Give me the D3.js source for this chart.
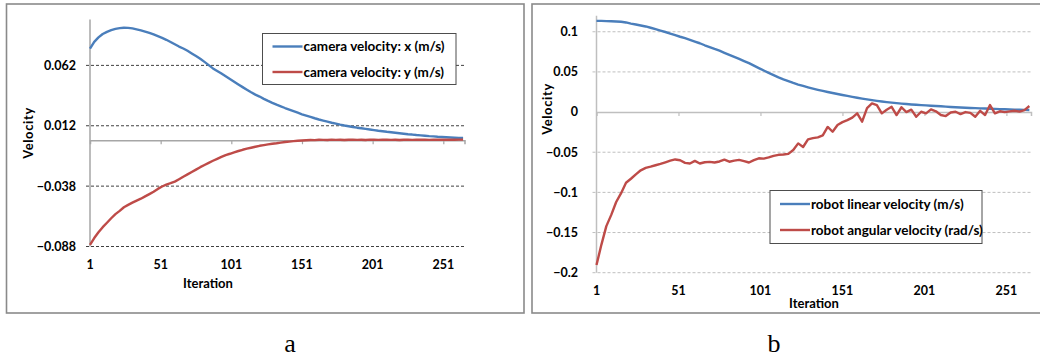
<!DOCTYPE html>
<html>
<head>
<meta charset="utf-8">
<script src="https://cdn.jsdelivr.net/npm/d3@7"></script>
<style>
  body { margin: 0; background: #fff; }
  svg { display: block; }
  .tick-label { font-family: Lato, "Liberation Sans", sans-serif; font-weight: 700; font-size: 12.5px; fill: #000; }
  .axis-title { font-family: Lato, "Liberation Sans", sans-serif; font-weight: 700; font-size: 13px; fill: #000; }
  .legend-text { font-family: Lato, "Liberation Sans", sans-serif; font-weight: 700; font-size: 13.5px; fill: #000; }
  .caption { font-family: "Liberation Serif", "DejaVu Serif", serif; font-size: 26px; fill: #000; }
</style>
</head>
<body>
<svg id="chart" width="1040" height="358"></svg>
<script>
// iteration index shared by both panels (every 3rd sample)
const iterations = d3.range(1, 266, 3);
const xTicks = [1, 51, 101, 151, 201, 251];

// panel a
const camTicks = [-0.088, -0.038, 0.012, 0.062];
const camVelX = [
  0.0758, 0.0815, 0.0852, 0.0880, 0.0898, 0.0912, 0.0922, 0.0929, 0.0932, 0.0931,
  0.0926, 0.0918, 0.0910, 0.0900, 0.0889, 0.0876, 0.0862, 0.0848, 0.0832, 0.0814,
  0.0795, 0.0776, 0.0760, 0.0741, 0.0719, 0.0697, 0.0675, 0.0649, 0.0622, 0.0595,
  0.0573, 0.0552, 0.0529, 0.0507, 0.0484, 0.0462, 0.0440, 0.0418, 0.0397, 0.0378,
  0.0362, 0.0343, 0.0326, 0.0310, 0.0295, 0.0281, 0.0267, 0.0254, 0.0241, 0.0228,
  0.0215, 0.0204, 0.0193, 0.0182, 0.0172, 0.0163, 0.0154, 0.0145, 0.0137, 0.0129,
  0.0122, 0.0116, 0.0110, 0.0104, 0.0099, 0.0094, 0.0089, 0.0084, 0.0079, 0.0075,
  0.0070, 0.0066, 0.0062, 0.0058, 0.0054, 0.0050, 0.0047, 0.0043, 0.0040, 0.0037,
  0.0034, 0.0032, 0.0029, 0.0027, 0.0025, 0.0023, 0.0021, 0.0019, 0.0018
];
const camVelY = [
  -0.0866, -0.0810, -0.0762, -0.0720, -0.0683, -0.0646, -0.0612, -0.0585, -0.0555, -0.0535,
  -0.0517, -0.0500, -0.0484, -0.0465, -0.0446, -0.0426, -0.0403, -0.0383, -0.0368, -0.0356,
  -0.0343, -0.0323, -0.0302, -0.0283, -0.0263, -0.0243, -0.0223, -0.0205, -0.0187, -0.0170,
  -0.0154, -0.0138, -0.0123, -0.0112, -0.0100, -0.0089, -0.0079, -0.0070, -0.0062, -0.0054,
  -0.0046, -0.0040, -0.0034, -0.0029, -0.0025, -0.0020, -0.0015, -0.0011, -0.0007, -0.0004,
  -0.0002, 0.0000, 0.0002, 0.0001, 0.0004, 0.0003, 0.0002, 0.0005, 0.0003, 0.0004,
  0.0002, 0.0004, 0.0005, 0.0003, 0.0004, 0.0002, 0.0005, 0.0004, 0.0003, 0.0004,
  0.0005, 0.0003, 0.0004, 0.0002, 0.0004, 0.0005, 0.0003, 0.0004, 0.0005, 0.0004,
  0.0003, 0.0005, 0.0004, 0.0004, 0.0005, 0.0004, 0.0004, 0.0005, 0.0005
];

// panel b
const robotTicks = [-0.2, -0.15, -0.1, -0.05, 0, 0.05, 0.1];
const robotLin = [
  0.1136, 0.1135, 0.1133, 0.1131, 0.1128, 0.1124, 0.1116, 0.1102, 0.1090, 0.1078,
  0.1066, 0.1050, 0.1032, 0.1015, 0.0997, 0.0978, 0.0958, 0.0938, 0.0920, 0.0900,
  0.0878, 0.0857, 0.0832, 0.0810, 0.0786, 0.0764, 0.0738, 0.0712, 0.0687, 0.0662,
  0.0635, 0.0609, 0.0578, 0.0548, 0.0518, 0.0488, 0.0460, 0.0433, 0.0408, 0.0385,
  0.0363, 0.0343, 0.0325, 0.0308, 0.0292, 0.0277, 0.0263, 0.0250, 0.0237, 0.0225,
  0.0213, 0.0201, 0.0190, 0.0179, 0.0168, 0.0158, 0.0149, 0.0140, 0.0132, 0.0124,
  0.0117, 0.0111, 0.0105, 0.0100, 0.0095, 0.0091, 0.0087, 0.0083, 0.0079, 0.0076,
  0.0072, 0.0068, 0.0064, 0.0060, 0.0057, 0.0054, 0.0051, 0.0049, 0.0046, 0.0044,
  0.0042, 0.0040, 0.0037, 0.0035, 0.0033, 0.0031, 0.0029, 0.0027, 0.0025
];
const robotAng = [
  -0.1904, -0.1650, -0.1420, -0.1280, -0.1120, -0.1010, -0.0880, -0.0830, -0.0775, -0.0725,
  -0.0695, -0.0680, -0.0662, -0.0645, -0.0625, -0.0605, -0.0590, -0.0600, -0.0632, -0.0640,
  -0.0608, -0.0640, -0.0625, -0.0620, -0.0628, -0.0615, -0.0592, -0.0618, -0.0605, -0.0595,
  -0.0610, -0.0628, -0.0598, -0.0575, -0.0580, -0.0565, -0.0545, -0.0532, -0.0528, -0.0520,
  -0.0472, -0.0390, -0.0435, -0.0340, -0.0325, -0.0315, -0.0290, -0.0185, -0.0245, -0.0160,
  -0.0125, -0.0100, -0.0070, -0.0016, -0.0120, 0.0050, 0.0108, 0.0087, -0.0016, 0.0030,
  0.0066, -0.0037, 0.0060, 0.0000, 0.0030, -0.0058, 0.0004, -0.0016, 0.0033, 0.0010,
  -0.0037, -0.0050, -0.0005, 0.0004, -0.0025, 0.0000, -0.0010, -0.0058, 0.0016, -0.0037,
  0.0087, -0.0016, 0.0010, 0.0000, 0.0008, 0.0016, 0.0005, 0.0025, 0.0075
];

const blue = "#4a7ebb";
const red = "#be4b48";

const svg = d3.select("#chart");

function drawPanel(p) {
  const g = svg.append("g");

  // outer frame
  g.append("rect")
    .attr("x", p.frame[0]).attr("y", p.frame[1])
    .attr("width", p.frame[2]).attr("height", p.frame[3])
    .attr("fill", "none").attr("stroke", "#8a8a8a").attr("stroke-width", 1.6);

  const x = d3.scaleLinear().domain([1, 266]).range(p.xRange);
  const y = d3.scaleLinear().domain(p.yDomain).range(p.yRange);

  // horizontal gridlines
  g.selectAll(".grid").data(p.yTicks.filter(d => d !== 0)).enter()
    .append("line")
      .attr("x1", p.xRange[0] - 4).attr("x2", p.xRange[1])
      .attr("y1", d => y(d)).attr("y2", d => y(d))
      .attr("stroke", p.gridColor).attr("stroke-width", 1)
      .attr("stroke-dasharray", "3,2");

  // y axis line
  g.append("line")
    .attr("x1", p.xRange[0]).attr("x2", p.xRange[0])
    .attr("y1", p.yRange[1]).attr("y2", p.yRange[0])
    .attr("stroke", p.axisColor).attr("stroke-width", 1.5);

  // x axis through zero
  const xAxis = d3.axisBottom(x).tickValues(xTicks.slice(1)).tickSize(4).tickFormat("");
  const xg = g.append("g").attr("transform", `translate(0,${y(0)})`).call(xAxis);
  xg.select(".domain").attr("stroke", p.axisColor).attr("stroke-width", 1.5);
  xg.selectAll(".tick line").attr("stroke", p.axisColor).attr("stroke-width", 1.2);

  // y tick labels
  g.selectAll(".ylab").data(p.yTicks).enter()
    .append("text")
      .attr("class", "tick-label")
      .attr("x", p.yLabelX).attr("y", d => y(d))
      .attr("dy", "0.35em").attr("text-anchor", "end")
      .text(d => p.fmt(d));

  // x tick labels
  g.selectAll(".xlab").data(xTicks).enter()
    .append("text")
      .attr("class", "tick-label")
      .attr("x", d => x(d)).attr("y", p.xLabelY)
      .attr("dy", "0.35em").attr("text-anchor", "middle")
      .text(d => d);

  g.append("text").attr("class", "axis-title")
    .attr("x", p.xTitle[0]).attr("y", p.xTitle[1])
    .attr("dy", "0.35em").attr("text-anchor", "middle")
    .text("Iteration");

  g.append("text").attr("class", "axis-title")
    .attr("transform", `translate(${p.yTitle[0]},${p.yTitle[1]}) rotate(-90)`)
    .attr("dy", "0.35em").attr("text-anchor", "middle")
    .style("letter-spacing", "0.6px")
    .text("Velocity");

  const line = d3.line()
    .x((d, i) => x(iterations[i]))
    .y(d => y(d));

  p.series.forEach(s => {
    g.append("path")
      .datum(s.values)
      .attr("fill", "none")
      .attr("stroke", s.color)
      .attr("stroke-width", 2.4)
      .attr("stroke-linejoin", "round")
      .attr("d", line);
  });

  // legend
  const lg = g.append("g");
  lg.append("rect")
    .attr("x", p.legend[0]).attr("y", p.legend[1])
    .attr("width", p.legend[2]).attr("height", p.legend[3])
    .attr("fill", "#fff").attr("stroke", "#4d4d4d").attr("stroke-width", 1);
  p.series.forEach((s, i) => {
    const ly = p.legend[1] + p.legendRows[i];
    lg.append("line")
      .attr("x1", p.legend[0] + 10).attr("x2", p.legend[0] + 40)
      .attr("y1", ly).attr("y2", ly)
      .attr("stroke", s.color).attr("stroke-width", 2.4);
    lg.append("text").attr("class", "legend-text")
      .attr("x", p.legend[0] + 41).attr("y", ly)
      .attr("dy", "0.35em")
      .text(s.name);
  });
}

drawPanel({
  frame: [6.5, 4, 517.5, 309],
  xRange: [90, 464.5],
  yDomain: [-0.088, 0.1],
  yRange: [246.5, 19.5],
  yTicks: camTicks,
  fmt: d3.format(".3f"),
  gridColor: "#404040",
  axisColor: "#a6a6a6",
  yLabelX: 76,
  xLabelY: 265,
  xTitle: [208, 283],
  yTitle: [28, 133],
  legend: [262.5, 33.5, 193.5, 51],
  legendRows: [13, 38.5],
  series: [
    { name: "camera velocity: x (m/s)", color: blue, values: camVelX },
    { name: "camera velocity: y (m/s)", color: red, values: camVelY }
  ]
});

drawPanel({
  frame: [532, 4, 520, 309],
  xRange: [596.5, 1031],
  yDomain: [-0.2, 0.12],
  yRange: [272.7, 15.7],
  yTicks: robotTicks,
  fmt: d => d3.format("")(+d.toFixed(2)),
  gridColor: "#bfbfbf",
  axisColor: "#bfbfbf",
  yLabelX: 578,
  xLabelY: 291,
  xTitle: [814, 303],
  yTitle: [547, 109],
  legend: [770, 190.5, 212, 53],
  legendRows: [13.5, 39.5],
  series: [
    { name: "robot linear velocity (m/s)", color: blue, values: robotLin },
    { name: "robot angular velocity (rad/s)", color: red, values: robotAng }
  ]
});

svg.append("text").attr("class", "caption").attr("x", 290).attr("y", 352).attr("text-anchor", "middle").text("a");
svg.append("text").attr("class", "caption").attr("x", 774).attr("y", 352).attr("text-anchor", "middle").text("b");
</script>
</body>
</html>
